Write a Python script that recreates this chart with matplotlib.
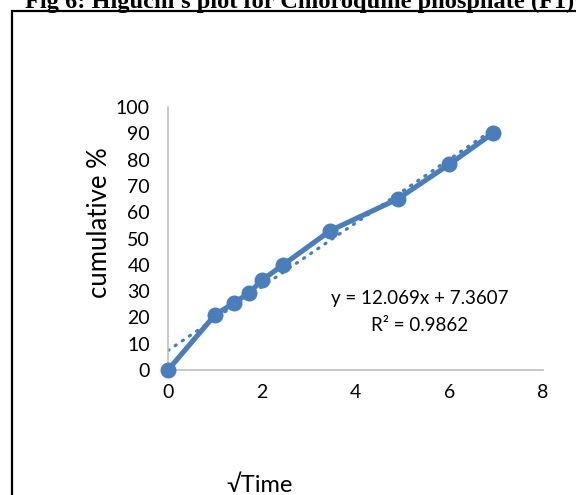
import numpy as np
import matplotlib.pyplot as plt
from matplotlib.patches import Rectangle

plt.rcParams['font.family'] = ['Lato', 'DejaVu Sans']

# sqrt(time) and cumulative % released
sqrt_time = [0, 1.0, 1.414, 1.732, 2.0, 2.449, 3.464, 4.899, 6.0, 6.928]
cumulative = [0, 20.9, 25.6, 29.3, 34.1, 39.9, 53.0, 65.0, 78.2, 90.0]

title = "Fig 6: Higuchi's plot for Chloroquine phosphate (F1)"
eq_text = "y = 12.069x + 7.3607"
r2_text = "R² = 0.9862"

blue = '#4A7EBB'

fig = plt.figure(figsize=(5.76, 4.95), dpi=100)

# frame round the chart and the cropped caption above it
fig.patches.append(Rectangle((12 / 576, -0.1), 1.0, 0.1 + (495 - 10.5) / 495,
                             transform=fig.transFigure, fill=False,
                             edgecolor='black', lw=1.6, zorder=0))
fig.text(0.52, 1 - 8 / 495, title, ha='center', va='baseline',
         fontsize=17.6, fontweight='bold', family='Liberation Serif')

ax = fig.add_axes([168 / 576, 125 / 495, 375 / 576, 263 / 495])

x = np.array(sqrt_time)
y = np.array(cumulative)
slope, icpt = np.polyfit(x, y, 1)
xf = np.array([x.min(), x.max()])
ax.plot(xf, slope * xf + icpt, linestyle=(0, (0.4, 2.3)), color=blue,
        lw=2.3, dash_capstyle='round', zorder=2)
ax.plot(x, y, '-o', color=blue, lw=3.7, markersize=10.5, zorder=3,
        clip_on=False)

ax.set_xlim(0, 8)
ax.set_ylim(0, 100)
ax.set_xticks(range(0, 9, 2))
ax.set_yticks(range(0, 101, 10))
ax.tick_params(length=0, labelsize=14, pad=10)
ax.tick_params(axis='y', pad=13)

for s in ['top', 'right']:
    ax.spines[s].set_visible(False)
for s in ['left', 'bottom']:
    ax.spines[s].set_color('#BFBFBF')
    ax.spines[s].set_linewidth(1.2)

ax.set_ylabel('cumulative %', fontsize=18.5)
ax.yaxis.set_label_coords(-0.15, 0.56)
ax.set_xlabel('√Time', fontsize=17)
ax.xaxis.set_label_coords(0.245, -0.40)

ax.text(5.37, 27, eq_text, ha='center', va='center', fontsize=13.5)
ax.text(5.37, 17, r2_text, ha='center', va='center', fontsize=13.5)

fig.savefig('out.png', dpi=100)
